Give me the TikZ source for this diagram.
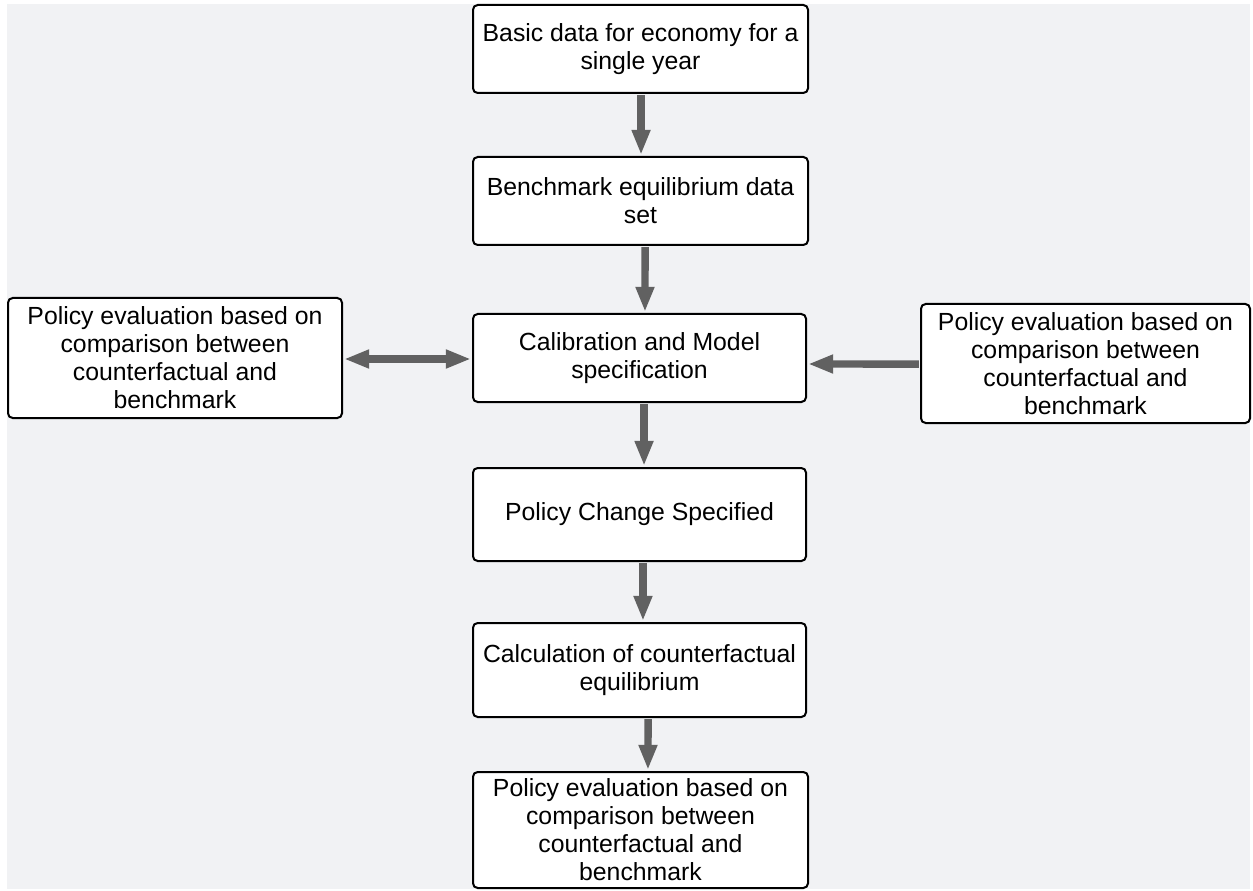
\documentclass[tikz,border=0pt]{standalone}
\usepackage{fontspec}
\setmainfont{Liberation Sans}
\usetikzlibrary{arrows.meta}
\definecolor{bg}{HTML}{F1F2F4}
\definecolor{arrgray}{HTML}{616161}
\begin{document}
\begin{tikzpicture}[x=0.75pt,y=-0.75pt,
  box/.style={draw=black, line width=1.5pt, rounded corners=3.5pt, fill=white,
    align=center, inner sep=0pt, font=\fontsize{18.6}{21}\selectfont},
  arr/.style={draw=arrgray, line width=5.6pt,
    -{Triangle[length=18.75pt,width=13pt]}},
  darr/.style={draw=arrgray, line width=5.6pt,
    {Triangle[length=18.75pt,width=13pt]}-{Triangle[length=18.75pt,width=13pt]}}]
\useasboundingbox (0,0) rectangle (1253,891);
\fill[bg] (7,4) rectangle (1250,889);

\node[box, minimum width=251.25pt, minimum height=66pt] (b1) at (640.5,49)
  {Basic data for economy for a\\single year};
\node[box, minimum width=251.25pt, minimum height=66pt] (b2) at (640.5,201)
  {Benchmark equilibrium data\\set};
\node[box, minimum width=249.75pt, minimum height=66pt] (b3) at (639.5,358)
  {Calibration and Model\\specification};
\node[box, minimum width=250.5pt, minimum height=90pt] (L) at (175,358)
  {Policy evaluation based on\\comparison between\\counterfactual and\\benchmark};
\node[box, minimum width=246.75pt, minimum height=89.25pt] (R) at (1085.5,363.5)
  {Policy evaluation based on\\comparison between\\counterfactual and\\benchmark};
\node[box, minimum width=249.75pt, minimum height=69.75pt] (b4) at (639.5,514.5)
  {Policy Change Specified};
\node[box, minimum width=249.75pt, minimum height=70.5pt] (b5) at (639.5,670)
  {Calculation of counterfactual\\equilibrium};
\node[box, minimum width=251.25pt, minimum height=87pt] (b6) at (640.5,830)
  {Policy evaluation based on\\comparison between\\counterfactual and\\benchmark};

\draw[arr] ([xshift=0.4pt,yshift=-0.8pt]b1.south) -- ([xshift=0.4pt,yshift=0.8pt]b2.north);
\draw[arr] ([xshift=3.4pt,yshift=-0.8pt]b2.south) -- ([xshift=4.1pt,yshift=0.8pt]b3.north);
\draw[arr] ([xshift=3.4pt,yshift=-0.8pt]b3.south) -- ([xshift=3.4pt,yshift=0.8pt]b4.north);
\draw[arr] ([xshift=2.6pt,yshift=-0.8pt]b4.south) -- ([xshift=2.6pt,yshift=0.8pt]b5.north);
\draw[arr] ([xshift=6.4pt,yshift=-0.8pt]b5.south) -- ([xshift=5.6pt,yshift=0.8pt]b6.north);
\draw[darr] ([xshift=0.8pt,yshift=-0.75pt]L.east) -- ([xshift=-0.8pt,yshift=-0.75pt]b3.west);
\draw[arr] ([xshift=-0.8pt,yshift=-0.4pt]R.west) -- ([xshift=0.8pt,yshift=-4.5pt]b3.east);
\end{tikzpicture}
\end{document}
